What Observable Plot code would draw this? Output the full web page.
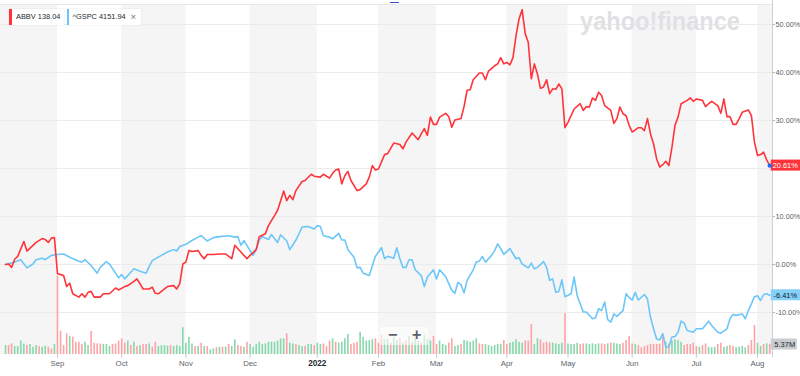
<!DOCTYPE html>
<html>
<head>
<meta charset="utf-8">
<script src="https://cdn.jsdelivr.net/npm/d3@7"></script>
<script src="https://cdn.jsdelivr.net/npm/@observablehq/plot@0.6"></script>
<style>
html,body{margin:0;padding:0;background:#fff;overflow:hidden;}
#chart{position:relative;width:800px;height:376px;overflow:hidden;font-family:"Liberation Sans",Arial,Helvetica,sans-serif;}
#chart > svg{position:absolute;left:0;top:0;}
.leg{position:absolute;top:9px;height:16px;line-height:16px;background:#fff;font-size:7.4px;color:#232a31;white-space:nowrap;box-shadow:0 0 1px rgba(0,0,0,0.2);}
.leg .bar{position:absolute;left:0;top:0;width:2.5px;height:16px;}
.leg .txt{position:absolute;top:0;}
.leg .x{position:absolute;top:0;color:#6e7780;font-size:9.5px;}
.ctrl{position:absolute;left:380px;top:327px;width:48px;height:18px;background:rgba(255,255,255,0.6);}
.ctrl span{position:absolute;top:-1px;font-size:16px;font-weight:bold;color:#5b636a;line-height:18px;}
.dash{position:absolute;left:390px;top:1.5px;width:9px;height:1.6px;background:#3e4fc2;}
</style>
</head>
<body>
<div id="chart"></div>
<script>
// ---- data ----
const monthLabels = ["Sep","Oct","Nov","Dec","2022","Feb","Mar","Apr","May","Jun","Jul","Aug"];
const monthStarts = [17,38,59,80,102,122,141,164,184,205,226,246]; // trading-day index
const yTicks = [-10,0,10,20,30,40,50];
const seriesNames = ["ABBV","^GSPC"];
const seriesPrices = ["138.04","4151.94"];
const seriesColors = ["#ff333a","#6cc6f9"];
const volumeUnit = "M";

// [trading day, % change]
const abbv = [[0,0],[1,0.1],[2,-0.6],[3,1.1],[4,1.7],[6,4.8],[7,2.8],[9,4.0],[10,4.6],[12,5.4],[13,5.2],[14,4.6],[15,5.5],[16,5.6],[17,-1.9],[19,-2.3],[20,-4.6],[21,-3.9],[22,-6.1],[24,-6.8],[25,-6.1],[26,-6.8],[27,-5.8],[28,-5.6],[29,-6.8],[31,-6.8],[32,-6.1],[34,-6.1],[36,-4.9],[37,-5.3],[39,-4.6],[40,-4.4],[42,-3.5],[43,-3.0],[44,-4.0],[45,-5.1],[47,-5.1],[48,-4.7],[49,-6.0],[50,-6.1],[52,-5.1],[53,-4.6],[55,-4.4],[56,-5.1],[57,-4.0],[58,0.1],[59,0.5],[60,2.9],[61,2.7],[63,2.9],[64,1.9],[65,1.2],[66,2.1],[68,2.1],[70,2.2],[72,2.2],[74,1.2],[75,4.0],[77,2.6],[79,1.2],[80,1.9],[82,3.1],[83,5.8],[85,6.4],[86,8.1],[88,10.2],[89,11.3],[90,13.3],[91,15.3],[92,13.3],[93,14.4],[94,13.5],[95,15.4],[97,17.3],[98,17.5],[100,18.8],[101,18.4],[103,18.2],[104,18.8],[106,18.0],[107,19.0],[108,19.7],[109,19.9],[110,16.8],[111,18.5],[112,19.4],[113,17.5],[115,15.4],[116,15.6],[118,16.8],[119,18.2],[120,20.6],[121,19.7],[122,19.9],[124,22.9],[125,23.1],[127,25.3],[129,25.0],[130,24.1],[131,25.5],[133,27.4],[135,26.0],[136,27.2],[137,28.3],[138,26.9],[139,30.7],[140,29.2],[141,29.2],[142,30.7],[144,31.5],[145,30.8],[146,28.6],[147,30.1],[149,30.4],[150,32.9],[151,36.3],[152,36.4],[153,38.5],[155,39.9],[156,39.9],[157,38.5],[158,40.3],[160,41.4],[161,41.8],[162,43.1],[163,41.8],[164,42.1],[165,41.6],[166,43.1],[167,47.7],[168,51.2],[169,53.1],[170,48.1],[171,46.3],[172,38.7],[173,41.8],[174,39.7],[175,36.7],[176,37.0],[177,38.5],[178,35.6],[179,36.6],[180,36.5],[181,37.6],[182,36.6],[183,28.5],[184,29.6],[186,32.4],[188,33.5],[189,32.1],[190,32.9],[191,32.8],[192,34.7],[193,34.2],[194,35.9],[195,35.2],[196,33.1],[198,32.1],[199,29.4],[200,30.4],[201,32.8],[202,31.4],[203,31.0],[204,29.0],[205,27.6],[207,28.5],[208,28.5],[209,27.9],[210,30.4],[211,27.2],[212,25.1],[213,22.0],[214,20.3],[215,20.8],[216,21.5],[217,20.6],[218,24.4],[219,29.0],[220,30.7],[221,33.5],[223,34.2],[224,34.7],[225,34.0],[226,34.5],[228,34.2],[229,32.9],[230,33.5],[231,34.0],[233,33.1],[234,31.5],[235,34.5],[236,30.8],[237,30.8],[238,29.2],[239,29.2],[240,30.4],[241,31.7],[243,32.2],[244,31.0],[245,25.5],[246,22.7],[247,22.9],[248,23.4],[249,21.8],[250,20.61]];

const gspc = [[0,0],[3,0.5],[5,1.0],[7,-0.7],[9,0.1],[10,1.0],[12,1.3],[13,1.0],[15,1.9],[17,2.1],[19,2.2],[21,1.5],[24,0.7],[25,0.5],[26,1.0],[28,-0.2],[30,-1.8],[31,-0.6],[33,0.6],[34,0.1],[36,-1.8],[37,-2.8],[38,-2.1],[39,-3.0],[41,-1.6],[42,-0.9],[44,-1.4],[46,-1.8],[47,-0.4],[48,0.8],[51,1.9],[53,2.6],[55,3.1],[56,2.8],[57,3.75],[59,4.2],[61,5.0],[63,5.7],[64,6.0],[66,4.9],[68,5.6],[70,5.8],[73,6.0],[75,5.7],[76,5.8],[77,4.0],[78,5.0],[80,2.9],[81,1.9],[82,3.1],[83,5.1],[84,5.8],[86,5.2],[87,6.25],[89,4.6],[90,6.2],[92,4.9],[93,3.1],[95,5.1],[96,6.4],[97,7.8],[99,7.9],[101,7.4],[102,8.1],[103,7.9],[104,6.0],[106,5.7],[107,5.35],[109,6.5],[110,5.1],[111,5.1],[112,3.1],[114,1.5],[115,-0.7],[116,-0.6],[117,-1.8],[119,-2.3],[121,1.7],[122,2.6],[123,3.5],[124,1.2],[125,1.7],[127,1.3],[128,3.5],[129,1.2],[130,-0.6],[131,-0.6],[132,1.0],[133,1.0],[134,-1.1],[136,-2.3],[137,-4.6],[138,-2.6],[140,-1.1],[141,-3.0],[142,-1.1],[144,-2.5],[145,-4.0],[146,-5.4],[147,-6.0],[148,-3.7],[149,-4.2],[150,-5.9],[151,-3.3],[153,-1.1],[154,0.5],[155,0.7],[156,1.7],[157,0.5],[159,1.9],[160,2.9],[161,4.3],[162,3.3],[163,2.1],[165,3.3],[167,1.2],[168,1.4],[169,0.1],[171,-0.7],[172,0.3],[173,-0.9],[174,-0.6],[176,0.6],[177,-0.6],[178,-3.3],[179,-3.0],[180,-5.8],[181,-5.6],[182,-3.2],[183,-6.7],[185,-6.1],[186,-2.6],[187,-6.5],[189,-9.9],[190,-9.9],[192,-11.3],[193,-11.1],[194,-9.2],[195,-9.6],[196,-7.8],[197,-11.5],[198,-12.0],[199,-10.3],[200,-10.8],[202,-9.6],[203,-6.1],[204,-6.9],[205,-7.4],[206,-5.8],[207,-7.4],[209,-6.25],[210,-7.2],[211,-11.0],[212,-13.4],[213,-15.5],[214,-15.7],[215,-14.4],[216,-17.2],[217,-17.2],[218,-15.1],[219,-15.0],[220,-14.1],[221,-11.8],[222,-12.2],[223,-13.75],[225,-14.1],[226,-13.4],[228,-13.4],[230,-11.8],[231,-12.7],[233,-14.1],[234,-14.3],[236,-13.4],[237,-11.3],[238,-10.4],[239,-10.6],[241,-10.3],[242,-11.3],[243,-9.6],[244,-8.2],[245,-6.7],[246,-6.5],[247,-7.5],[248,-6.25],[249,-6.1],[250,-6.41]];

// ABBV daily volume, millions (one per trading day)
const volume = [4.8,4.8,5.7,4.3,4.3,7.2,5.7,4.8,5.4,3.9,
 4.8,4.3,3.9,4.5,3.9,3.0,5.4,42,12.5,4.8,
 11.1,9.7,9.3,6.6,6.6,5.4,6.6,4.8,12.4,6.1,
 5.7,5.7,5.4,5.4,4.3,5.4,5.7,7.2,8.4,6.1,
 7.2,4.8,6.6,4.3,4.8,5.4,5.4,5.7,3.9,6.6,
 4.3,4.8,4.8,4.5,4.8,4.3,4.8,4.3,14.3,6.1,
 9.3,5.7,4.3,4.3,6.1,4.3,4.3,2.5,3.0,3.6,
 3.9,3.9,3.9,5.4,4.3,7.9,4.8,4.3,3.9,6.6,
 5.4,3.9,5.4,6.6,5.4,5.7,6.6,6.6,6.6,7.2,
 8.4,8.4,11.1,6.1,5.7,5.4,4.8,4.3,4.3,5.4,
 5.4,4.8,6.1,5.4,5.7,4.3,7.2,8.4,6.6,6.1,
 6.6,8.4,10.7,5.4,6.1,6.6,12,9.3,7.2,7.5,
 7.9,8.4,6.1,10.2,7.9,8.4,6.1,9.3,7.5,8.4,
 6.1,7.2,9.7,6.6,8.4,7.2,6.1,10.2,7.9,7.2,
 9.7,5.4,7.2,5.4,4.8,6.1,8.4,4.3,4.8,5.4,
 7.5,7.2,6.6,7.2,8.4,5.7,5.4,5.4,4.8,4.3,
 4.8,5.4,5.4,7.5,5.4,6.1,6.6,7.9,6.6,6.1,
 7.2,7.2,16.1,5.4,8.4,7.9,6.1,6.6,6.3,6.1,
 5.7,5.4,6.1,22.0,5.7,5.4,5.4,6.1,5.4,5.7,
 5.7,5.4,5.7,5.4,5.7,5.7,5.4,5.7,6.1,6.1,
 5.7,5.4,6.1,7.5,9.7,5.7,5.4,4.8,3.6,4.3,
 4.8,5.4,5.4,5.4,5.4,9.3,6.6,5.7,7.2,7.9,
 7.5,6.6,4.8,5.4,5.4,6.1,4.3,3.9,4.8,5.7,
 3.9,3.6,3.9,5.4,6.1,3.9,4.3,4.8,4.3,3.6,
 3.9,4.3,3.6,4.8,7.5,15.6,6.1,4.3,5.4,5.7,
 5.37];
// u = up day (green), d = down day (red)
const volumeDir = "udduuuuduu"+"uduudduddd"+"dudddduudd"+"dduuuddddd"+"udududdudd"+
 "uuuuduuuuu"+"uudududuud"+"ududuuddud"+"uuuuuuuuuu"+"uuduuduudu"+
 "uduudddudu"+"uuuddduuuu"+"uddduuduud"+"ududuuduuu"+"dduuudduud"+
 "uuuuudduuu"+"uuudduuuuu"+"ddduuddddu"+"uuuduuuudd"+"uuuuuddudu"+
 "uudddduddd"+"dddddduduu"+"uudddddudd"+"uuudduuddu"+"uuuddduudud";

// ---- chart ----
const font = '"Liberation Sans", Arial, Helvetica, sans-serif';
const xDom = [-1.64, 250.9];
const yDom = [-18.75, 54.17];
const xMax = xDom[1], yMin = yDom[0];
const base = {
  width: 800, height: 376, marginLeft: 0, marginRight: 28, marginTop: 4, marginBottom: 22,
  x: {domain: xDom, axis: null},
  style: {background: "transparent", overflow: "visible", fontFamily: font}
};
const bounds = [xDom[0], ...monthStarts, xDom[1]];
const bands = d3.range(0, bounds.length - 1, 2).map(i => ({x1: bounds[i], x2: bounds[i + 1]}));
const ticks = monthStarts.map((d, i) => ({day: d, label: monthLabels[i], year: /^\d{4}$/.test(monthLabels[i])}));

const abbvEnd = [abbv[abbv.length - 1]];
const gspcEnd = [gspc[gspc.length - 1]];
// tick labels hidden under the end-value badges (as in the reference)
const endValues = [abbvEnd[0][1], gspcEnd[0][1]];
const visibleTicks = yTicks.filter(t => endValues.every(v => Math.abs(t - v) > 1.5));

const bg = Plot.plot({
  ...base,
  y: {domain: yDom, axis: null},
  marks: [
    Plot.rect(bands, {x1: "x1", x2: "x2", fill: "#f5f5f5"}),
    Plot.ruleY(yTicks, {stroke: "#ebebeb"}),
    Plot.ruleY([yDom[1]], {stroke: "#e8e8e8"}),
    Plot.ruleX([xMax], {stroke: "#cdd0d4", insetTop: -4, insetBottom: -3}),
    Plot.ruleY(yTicks, {x1: () => xMax, x2: () => xMax, insetRight: -3, stroke: "#b8bcc0"}),
    Plot.text(visibleTicks, {x: () => xMax, y: d => d, text: d => d.toFixed(2) + "%", dx: 3, textAnchor: "start", fill: "#5b636a", fontSize: 7.3}),
    Plot.ruleX(ticks, {x: "day", y1: () => yMin, y2: () => yMin, insetBottom: -4, stroke: "#c9cdd1"}),
    Plot.text(ticks.filter(d => !d.year), {x: "day", y: () => yMin, text: "label", dy: 9, fill: "#5b636a", fontSize: 7.8}),
    Plot.text(ticks.filter(d => d.year), {x: "day", y: () => yMin, text: "label", dy: 9, fill: "#232a31", fontSize: 8.2, fontWeight: "bold"})
  ]
});

const lastVol = [{i: volume.length - 1, v: volume[volume.length - 1]}];
const vol = Plot.plot({
  ...base,
  marginTop: 0,
  y: {domain: [0, 190.1], axis: null},
  color: {type: "identity"},
  marks: [
    Plot.ruleX(volume, {x: (d, i) => i, y1: () => 0, y2: d => d,
      stroke: (d, i) => volumeDir[i] === "u" ? "#86d8ac" : "#ffa2a5", strokeWidth: 1.6}),
    Plot.rect(lastVol, {x1: "i", x2: "i", y1: "v", y2: "v", insetLeft: 1.5, insetRight: -27.5, insetTop: -5.5, insetBottom: -5.5, fill: "#c9ccd0"}),
    Plot.text(lastVol, {x: "i", y: "v", text: d => d.v.toFixed(2) + volumeUnit, dx: 15, fill: "#232a31", fontSize: 7.5})
  ]
});

const fg = Plot.plot({
  ...base,
  y: {domain: yDom, axis: null},
  marks: [
    Plot.line(gspc, {x: d => d[0], y: d => d[1], stroke: seriesColors[1], strokeWidth: 1.6}),
    Plot.line(abbv, {x: d => d[0], y: d => d[1], stroke: seriesColors[0], strokeWidth: 1.6}),
    Plot.rect(abbvEnd, {x1: d => d[0], x2: d => d[0], y1: d => d[1], y2: d => d[1], insetLeft: 1.5, insetRight: -32, insetTop: -5.5, insetBottom: -5.5, fill: "#ff333a"}),
    Plot.text(abbvEnd, {x: d => d[0], y: d => d[1], text: d => d[1].toFixed(2) + "%", dx: 15.5, fill: "#fff", fontSize: 7.4}),
    Plot.rect(gspcEnd, {x1: d => d[0], x2: d => d[0], y1: d => d[1], y2: d => d[1], insetLeft: 1.5, insetRight: -32, insetTop: -5.5, insetBottom: -5.5, fill: "#86d0f8"}),
    Plot.text(gspcEnd, {x: d => d[0], y: d => d[1], text: d => d[1].toFixed(2) + "%", dx: 15.5, fill: "#0b1a24", fontSize: 7.4}),
    Plot.dot(abbvEnd, {x: d => d[0], y: d => d[1], r: 2.2, fill: "#1a6cf0"})
  ]
});

const chart = document.getElementById("chart");
chart.appendChild(bg);
chart.insertAdjacentHTML("beforeend",
  '<svg width="800" height="376" style="position:absolute;left:0;top:0"><text x="580" y="30" font-family=\'' + font + '\' font-size="25" font-weight="bold" fill="#dfe1e4" textLength="160" lengthAdjust="spacingAndGlyphs">yahoo!finance</text></svg>');
chart.appendChild(vol);
chart.appendChild(fg);

// legend
const legLeft = [9, 66.5], legWidth = [55, 74];
seriesNames.forEach((name, i) => {
  const box = document.createElement("div");
  box.className = "leg";
  box.style.left = legLeft[i] + "px";
  box.style.width = legWidth[i] + "px";
  box.innerHTML = '<span class="bar" style="background:' + seriesColors[i] + '"></span>' +
    '<span class="txt" style="left:' + (i === 0 ? 7 : 6) + 'px">' + name + '&nbsp;' + seriesPrices[i] + '</span>' +
    (i === 1 ? '<span class="x" style="left:64px">×</span>' : '');
  chart.appendChild(box);
});
chart.insertAdjacentHTML("beforeend", '<div class="ctrl"><span style="left:8px">−</span><span style="left:32px">+</span></div><div class="dash"></div>');
</script>
</body>
</html>
